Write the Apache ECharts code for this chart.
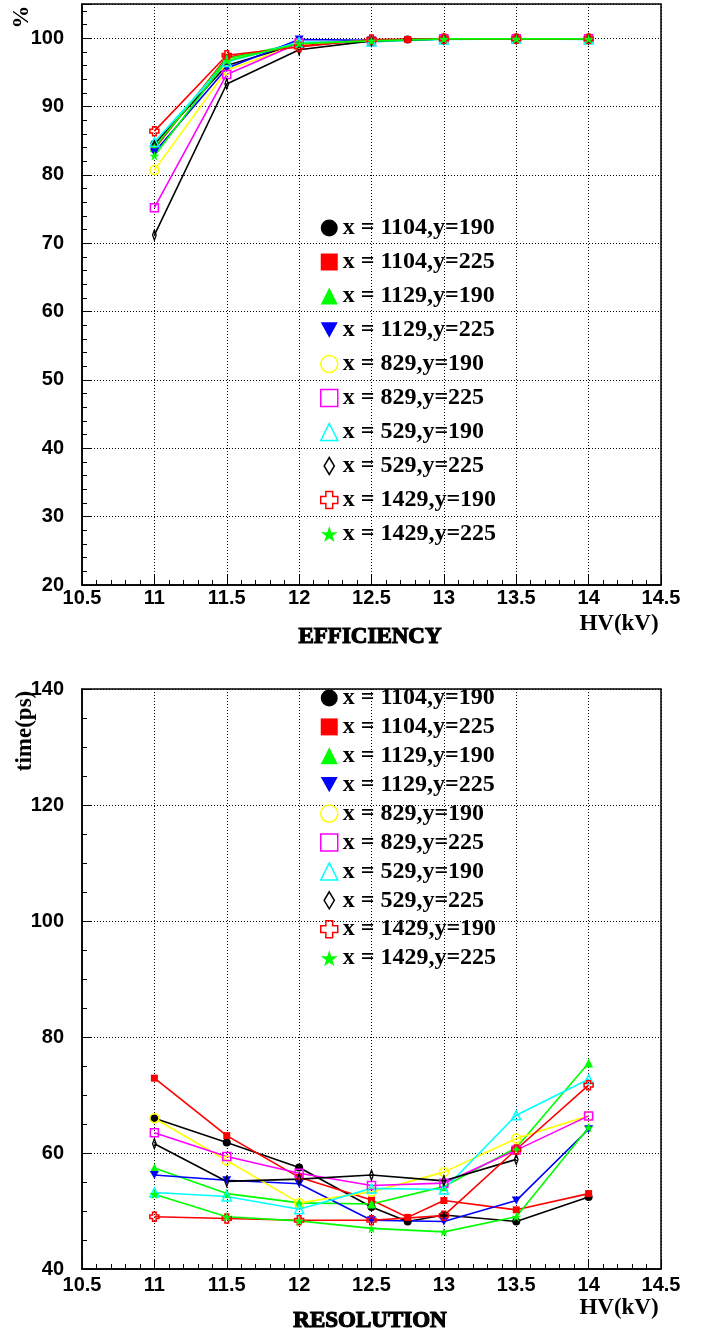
<!DOCTYPE html>
<html>
<head>
<meta charset="utf-8">
<script src="https://cdn.jsdelivr.net/npm/echarts@6/dist/echarts.min.js"></script>
<style>
  html, body { margin: 0; padding: 0; background: #fff; }
  #chart { width: 702px; height: 1334px; }
</style>
</head>
<body>
<div id="chart"></div>
<script>
// HV points (kV)
const hv = [11, 11.5, 12, 12.5, 13, 13.5, 14];
const hvFine = [11, 11.5, 12, 12.5, 12.75, 13, 13.5, 14];
const hvShort = [11, 11.5, 12, 12.5, 13, 13.5];

const names = [
  'x = 1104,y=190', 'x = 1104,y=225', 'x = 1129,y=190', 'x = 1129,y=225', 'x = 829,y=190',
  'x = 829,y=225', 'x = 529,y=190', 'x = 529,y=225', 'x = 1429,y=190', 'x = 1429,y=225'
];

// efficiency (%)
const eff1104_190 = [84.5, 96.0, 99.2, 99.7, 99.8, 99.9, 99.9, 99.9];
const eff1104_225 = [83.8, 97.2, 98.9, 99.7, 99.8, 99.9, 99.9, 99.9];
const eff1129_190 = [84.0, 97.0, 99.3, 99.6, 99.9, 99.9, 99.9];
const eff1129_225 = [83.3, 95.6, 99.8, 99.7, 99.9, 99.9, 99.9];
const eff829_190 = [80.7, 95.3, 99.2, 99.6, 99.9, 99.9, 99.9];
const eff829_225 = [75.2, 94.7, 99.3, 99.5, 99.9, 99.9, 99.9];
const eff529_190 = [84.8, 96.5, 99.4, 99.5, 99.8, 99.9, 99.8];
const eff529_225 = [71.2, 93.3, 98.3, 99.6, 99.9, 99.9, 99.9];
const eff1429_190 = [86.4, 97.5, 98.7, 99.8, 99.9, 99.9, 99.9];
const eff1429_225 = [82.8, 96.7, 99.2, 99.6, 99.9, 99.9, 99.9];

// time resolution (ps)
const res1104_190 = [66.0, 61.8, 57.5, 50.7, 48.2, 49.3, 48.2, 52.4];
const res1104_225 = [72.9, 63.0, 55.8, 51.9, 48.9, 51.8, 50.2, 53.0];
const res1129_190 = [57.4, 53.0, 51.4, 51.2, 54.2, 60.9, 75.5];
const res1129_225 = [56.2, 55.3, 54.7, 48.4, 48.2, 51.8, 64.1];
const res829_190 = [66.0, 58.7, 51.4, 53.3, 56.7, 62.5, 66.4];
const res829_225 = [63.5, 59.4, 56.5, 54.4, 54.8, 60.5, 66.4];
const res529_190 = [53.2, 52.5, 50.3, 53.9, 53.7, 66.5, 72.7];
const res529_225 = [61.6, 55.1, 55.5, 56.2, 55.2, 58.9];
const res1429_190 = [49.0, 48.7, 48.4, 48.4, 49.2, 60.6, 71.7];
const res1429_225 = [52.9, 49.0, 48.3, 47.0, 46.4, 49.0, 64.4];

const effXs = [hvFine, hvFine, hv, hv, hv, hv, hv, hv, hv, hv];
const effYs = [eff1104_190, eff1104_225, eff1129_190, eff1129_225, eff829_190,
  eff829_225, eff529_190, eff529_225, eff1429_190, eff1429_225];
const resXs = [hvFine, hvFine, hv, hv, hv, hv, hv, hvShort, hv, hv];
const resYs = [res1104_190, res1104_225, res1129_190, res1129_225, res829_190,
  res829_225, res529_190, res529_225, res1429_190, res1429_225];

const colors = ['#000000', '#ff0000', '#00ff00', '#0000ff', '#ffff00',
  '#ff00ff', '#00ffff', '#000000', '#ff0000', '#00ff00'];
const downTri = 'path://M0,0L10,0L5,9Z';
const diamond = 'path://M6,0L12,10L6,20L0,10Z';
const cross = 'path://M3,0L7,0L7,3L10,3L10,7L7,7L7,10L3,10L3,7L0,7L0,3L3,3Z';
const star = 'path://M50,0L61,35L98,35L68,57L79,91L50,70L21,91L32,57L2,35L39,35Z';
const symbols = ['circle', 'rect', 'triangle', downTri, 'circle', 'rect', 'triangle', diamond, cross, star];
const hollow = [false, false, false, false, true, true, true, true, true, false];
const plotSizes = [8, 7, 9, 9, 9, 8, 9, [6, 10], 9, 10];

const chart = echarts.init(document.getElementById('chart'), null, { renderer: 'canvas' });

const labelFont = { fontFamily: 'Liberation Sans', fontWeight: 'bold', fontSize: 20, color: '#000' };
const serifBold = 'bold 23px "Liberation Serif"';

function pairs(xs, ys) {
  return xs.map((x, i) => [x, ys[i]]);
}

function xAxisFor(gi, margin) {
  return {
    type: 'value', gridIndex: gi, min: 10.5, max: 14.5, interval: 0.5,
    axisLine: { lineStyle: { color: '#000', width: 1.5 } },
    axisTick: { inside: true, length: 10, lineStyle: { color: '#000' } },
    minorTick: { show: true, splitNumber: 5, length: 5, lineStyle: { color: '#000' } },
    splitLine: { show: true, lineStyle: { color: '#000', type: [1, 2], width: 1 } },
    axisLabel: Object.assign({ margin: margin }, labelFont)
  };
}

function yAxisFor(gi, min, max, interval, minorSplit) {
  return {
    type: 'value', gridIndex: gi, min: min, max: max, interval: interval,
    axisLine: { lineStyle: { color: '#000', width: 1.5 } },
    axisTick: { inside: true, length: 10, lineStyle: { color: '#000' } },
    minorTick: { show: true, splitNumber: minorSplit, length: 5, lineStyle: { color: '#000' } },
    splitLine: { show: true, lineStyle: { color: '#000', type: [1, 2], width: 1 } },
    axisLabel: Object.assign({
      margin: 18,
      formatter: v => (v % interval === 0 ? String(v) : '')
    }, labelFont)
  };
}

function makeSeries(gi, xsList, ysList) {
  return names.map((name, i) => ({
    name: name,
    type: 'line',
    xAxisIndex: gi,
    yAxisIndex: gi,
    data: pairs(xsList[i], ysList[i]),
    symbol: symbols[i],
    symbolSize: plotSizes[i],
    symbolKeepAspect: true,
    lineStyle: { color: colors[i], width: 1.6 },
    itemStyle: hollow[i]
      ? { color: 'transparent', borderColor: colors[i], borderWidth: 1.5 }
      : { color: colors[i], borderColor: colors[i], borderWidth: 0 },
    emphasis: { disabled: true }
  }));
}

function legendFor(top, gap) {
  return {
    orient: 'vertical', left: 320, top: top, padding: 0,
    itemWidth: 17, itemHeight: 17, itemGap: gap,
    selectedMode: false,
    textStyle: { fontFamily: 'Liberation Serif', fontWeight: 'bold', fontSize: 24, color: '#000', lineHeight: 24 },
    data: names.map((name, i) => ({
      name: name,
      icon: symbols[i],
      itemStyle: hollow[i]
        ? { color: 'rgba(255,255,255,0)', borderColor: colors[i], borderWidth: 1.5 }
        : { color: colors[i], borderColor: colors[i], borderWidth: 0 }
    }))
  };
}

function text(x, y, str, rot, heavy) {
  return {
    type: 'text', x: x, y: y, rotation: rot || 0,
    style: { text: str, font: serifBold, fill: '#000', align: 'center', verticalAlign: 'middle',
      textAlign: 'center', textVerticalAlign: 'middle',
      stroke: heavy ? '#000' : null, lineWidth: heavy ? 1.2 : 0 }
  };
}

const option = {
  animation: false,
  backgroundColor: '#fff',
  grid: [
    { left: 82, right: 41, top: 4, height: 581, show: true, borderColor: '#000', borderWidth: 1.5 },
    { left: 82, right: 41, top: 689, height: 580, show: true, borderColor: '#000', borderWidth: 1.5 }
  ],
  xAxis: [xAxisFor(0, 3), xAxisFor(1, 6)],
  yAxis: [yAxisFor(0, 20, 105, 10, 5), yAxisFor(1, 40, 140, 20, 4)],
  legend: [legendFor(216, 10), legendFor(686, 4.9)],
  series: makeSeries(0, effXs, effYs).concat(makeSeries(1, resXs, resYs)),
  graphic: [
    text(370, 637, 'EFFICIENCY', 0, true),
    text(619, 624, 'HV(kV)'),
    text(22, 17, '%', Math.PI / 2),
    text(370, 1321, 'RESOLUTION', 0, true),
    text(619, 1308, 'HV(kV)'),
    text(25, 731, 'time(ps)', Math.PI / 2)
  ]
};

chart.setOption(option);
</script>
</body>
</html>
